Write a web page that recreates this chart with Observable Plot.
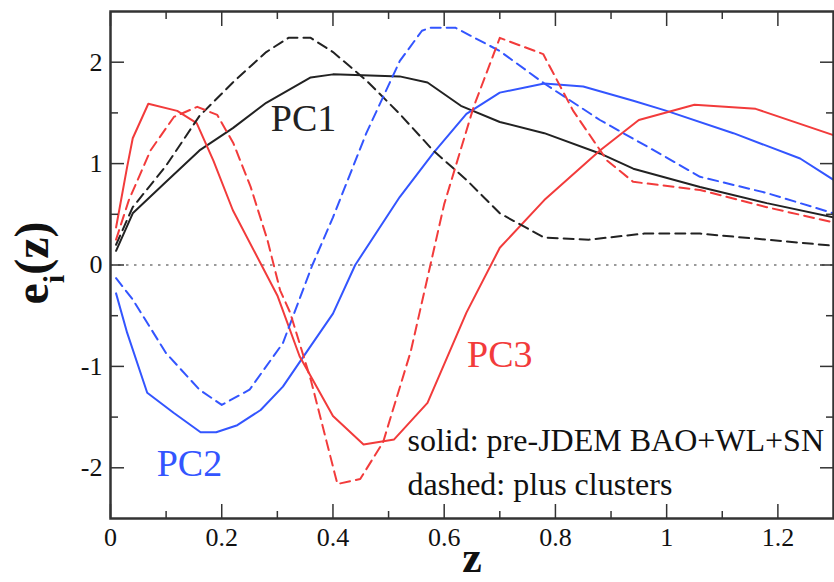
<!DOCTYPE html>
<html><head><meta charset="utf-8">
<script src="https://cdn.jsdelivr.net/npm/d3@7"></script>
<script src="https://cdn.jsdelivr.net/npm/@observablehq/plot@0.6"></script>
<style>
body{margin:0;background:#fff;}
#chart svg{display:block;}
#chart svg text{font-family: "Liberation Serif", "DejaVu Serif", serif;}
</style></head><body><div id="chart"></div>
<script>
// ---- data ----
const pc1SolidZ = [0.01, 0.04, 0.10, 0.16, 0.22, 0.28, 0.36, 0.40, 0.52, 0.57, 0.63, 0.70, 0.78, 0.88, 0.94, 1.06, 1.18, 1.30];
const pc1SolidE = [0.14, 0.51, 0.82, 1.13, 1.35, 1.60, 1.85, 1.88, 1.86, 1.80, 1.57, 1.41, 1.30, 1.10, 0.95, 0.77, 0.61, 0.47];

const pc1DashedZ = [0.01, 0.04, 0.10, 0.16, 0.22, 0.28, 0.32, 0.36, 0.40, 0.46, 0.52, 0.58, 0.64, 0.70, 0.78, 0.86, 0.96, 1.06, 1.18, 1.30];
const pc1DashedE = [0.20, 0.57, 0.98, 1.47, 1.80, 2.10, 2.24, 2.24, 2.10, 1.82, 1.49, 1.13, 0.84, 0.51, 0.27, 0.25, 0.31, 0.31, 0.25, 0.19];

const pc2SolidZ = [0.01, 0.03, 0.066, 0.114, 0.162, 0.19, 0.228, 0.27, 0.31, 0.341, 0.40, 0.44, 0.52, 0.58, 0.64, 0.70, 0.78, 0.85, 0.94, 1.00, 1.12, 1.24, 1.30];
const pc2SolidE = [-0.28, -0.67, -1.26, -1.46, -1.65, -1.65, -1.58, -1.43, -1.20, -0.95, -0.48, 0.00, 0.67, 1.10, 1.49, 1.70, 1.79, 1.76, 1.62, 1.52, 1.30, 1.05, 0.84];

const pc2DashedZ = [0.01, 0.04, 0.10, 0.16, 0.20, 0.25, 0.31, 0.363, 0.40, 0.46, 0.52, 0.56, 0.575, 0.62, 0.70, 0.78, 0.88, 1.00, 1.06, 1.18, 1.30];
const pc2DashedE = [-0.13, -0.34, -0.87, -1.23, -1.38, -1.23, -0.77, 0.00, 0.47, 1.30, 2.01, 2.31, 2.34, 2.34, 2.11, 1.79, 1.43, 1.06, 0.87, 0.71, 0.51];

const pc3SolidZ = [0.01, 0.03, 0.04, 0.068, 0.12, 0.155, 0.185, 0.22, 0.30, 0.34, 0.40, 0.455, 0.51, 0.57, 0.64, 0.70, 0.78, 0.88, 0.95, 1.05, 1.16, 1.30];
const pc3SolidE = [0.37, 0.97, 1.25, 1.59, 1.52, 1.40, 1.03, 0.54, -0.30, -0.90, -1.49, -1.77, -1.72, -1.36, -0.47, 0.17, 0.64, 1.13, 1.43, 1.58, 1.54, 1.28];

const pc3DashedZ = [0.01, 0.033, 0.072, 0.114, 0.156, 0.192, 0.221, 0.252, 0.282, 0.305, 0.323, 0.36, 0.408, 0.449, 0.49, 0.54, 0.60, 0.653, 0.70, 0.778, 0.832, 0.893, 0.94, 1.06, 1.18, 1.30];
const pc3DashedE = [0.25, 0.64, 1.13, 1.46, 1.56, 1.48, 1.20, 0.77, 0.25, -0.25, -0.47, -1.13, -2.16, -2.11, -1.75, -0.85, 0.60, 1.56, 2.24, 2.08, 1.52, 1.03, 0.82, 0.74, 0.57, 0.42];

const pcNames = ["PC1", "PC2", "PC3"];
const pcColors = ["#222222", "#3355ff", "#f23b3b"];
const pcLabelZ = [0.347, 0.142, 0.70];
const pcLabelE = [1.44, -1.96, -0.89];

const legendTexts = ["solid: pre-JDEM BAO+WL+SN", "dashed: plus clusters"];
const legendZ = [0.534, 0.534];
const legendE = [-1.83, -2.27];

const xMajorTicks = [0, 0.2, 0.4, 0.6, 0.8, 1, 1.2];
const xMinorTicks = [0.1, 0.3, 0.5, 0.7, 0.9, 1.1];
const yMajorTicks = [-2, -1, 0, 1, 2];
const yMinorTicks = [-1.5, -0.5, 0.5, 1.5];

// ---- build tables ----
const seriesDefs = [
  {pc: 0, dashed: false, z: pc1SolidZ, e: pc1SolidE},
  {pc: 0, dashed: true,  z: pc1DashedZ, e: pc1DashedE},
  {pc: 1, dashed: false, z: pc2SolidZ, e: pc2SolidE},
  {pc: 1, dashed: true,  z: pc2DashedZ, e: pc2DashedE},
  {pc: 2, dashed: false, z: pc3SolidZ, e: pc3SolidE},
  {pc: 2, dashed: true,  z: pc3DashedZ, e: pc3DashedE}
];
const rows = seriesDefs.flatMap(s => s.z.map((z, i) => ({
  z, e: s.e[i], key: pcNames[s.pc] + (s.dashed ? "-d" : "-s"), color: pcColors[s.pc], dashed: s.dashed
})));
const solidRows = rows.filter(d => !d.dashed);
const dashedRows = rows.filter(d => d.dashed);
const pcLabels = pcNames.map((n, i) => ({label: n, z: pcLabelZ[i], e: pcLabelE[i], color: pcColors[i]}));
const legendRows = legendTexts.map((t, i) => ({t, z: legendZ[i], e: legendE[i]}));

const SERIF = "Liberation Serif, DejaVu Serif, serif";
const fmt = d => String(d);
const blank = () => "";
const axisStyle = {stroke: "#333", strokeWidth: 1.5, fontFamily: SERIF};

const chart = Plot.plot({
  width: 834, height: 582,
  marginLeft: 110, marginRight: 1, marginTop: 11, marginBottom: 64,
  x: {domain: [0, 1.3], label: null},
  y: {domain: [-2.5, 2.5], label: null},
  color: {type: "identity"},
  style: {fontFamily: SERIF, color: "#111", background: "#fff", overflow: "visible"},
  marks: [
    Plot.ruleY([0], {stroke: "#9a9a9a", strokeWidth: 2, strokeDasharray: "2.5,5.5"}),
    Plot.line(solidRows, {x: "z", y: "e", z: "key", stroke: "color", strokeWidth: 2, clip: true}),
    Plot.line(dashedRows, {x: "z", y: "e", z: "key", stroke: "color", strokeWidth: 2, strokeDasharray: "10,6", clip: true}),
    Plot.text(pcLabels, {x: "z", y: "e", text: "label", fill: "color", fontSize: 38, fontFamily: SERIF}),
    Plot.text(legendRows, {x: "z", y: "e", text: "t", textAnchor: "start", lineAnchor: "bottom", fontSize: 32, fill: "#111", fontFamily: SERIF}),
    Plot.frame({stroke: "#333", strokeWidth: 2.5}),
    // bottom axis
    Plot.axisX(xMajorTicks, {anchor: "bottom", tickSize: -14, tickPadding: 23, tickFormat: fmt, fontSize: 26, label: null, ...axisStyle}),
    Plot.axisX(xMinorTicks, {anchor: "bottom", tickSize: -7, tickFormat: blank, label: null, ...axisStyle}),
    // top axis
    Plot.axisX(xMajorTicks, {anchor: "top", tickSize: -14, tickFormat: blank, label: null, ...axisStyle}),
    Plot.axisX(xMinorTicks, {anchor: "top", tickSize: -7, tickFormat: blank, label: null, ...axisStyle}),
    // left axis
    Plot.axisY(yMajorTicks, {anchor: "left", tickSize: -14, tickPadding: 22, tickFormat: fmt, fontSize: 26, label: null, ...axisStyle}),
    Plot.axisY(yMinorTicks, {anchor: "left", tickSize: -8, tickFormat: blank, label: null, ...axisStyle}),
    // right axis
    Plot.axisY(yMajorTicks, {anchor: "right", tickSize: -14, tickFormat: blank, label: null, ...axisStyle}),
    Plot.axisY(yMinorTicks, {anchor: "right", tickSize: -8, tickFormat: blank, label: null, ...axisStyle}),
    // x axis title
    Plot.text(["z"], {frameAnchor: "bottom", dy: 53, lineAnchor: "bottom", fontSize: 44, fontWeight: "bold", fill: "#111", fontFamily: SERIF})
  ]
});
document.getElementById("chart").appendChild(chart);

// y axis title with subscript
const svg = d3.select(chart);
const yl = svg.append("text")
  .attr("transform", "translate(48,263) rotate(-90)")
  .attr("text-anchor", "middle")
  .attr("font-family", SERIF)
  .attr("font-weight", "bold")
  .attr("font-size", 48)
  .attr("fill", "#111");
yl.append("tspan").text("e");
yl.append("tspan").attr("font-size", 30).attr("dy", 16).text("i");
yl.append("tspan").attr("dy", -16).text("(z)");
</script>
</body></html>
